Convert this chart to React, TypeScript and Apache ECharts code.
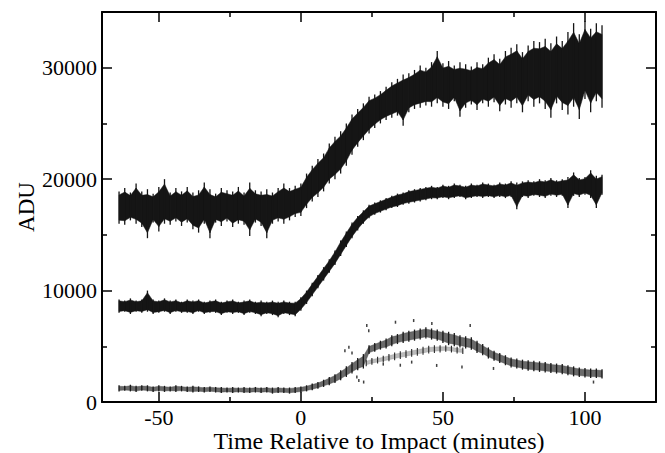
import React, { useEffect, useRef } from "react";
import * as echarts from "echarts";

// Time relative to impact (minutes)
const minutes = [-64,-62,-60,-58,-56,-54,-52,-50,-48,-46,-44,-42,-40,-38,-36,-34,-32,-30,-28,-26,-24,-22,-20,-18,-16,-14,-12,-10,-8,-6,-4,-2,0,2,4,6,8,10,12,14,16,18,20,22,24,26,28,30,32,34,36,38,40,42,44,46,48,50,52,54,56,58,60,62,64,66,68,70,72,74,76,78,80,82,84,86,88,90,92,94,96,98,100,102,104,106];

// Upper curve: envelope (high / low) of the noisy trace, ADU
const upperHi = [18900,19200,18800,19600,18900,19100,18700,19300,20000,18800,
  19200,18900,19300,18800,19000,19700,19100,18700,19200,19000,
  18900,19300,18800,19700,19000,18900,19100,18800,19200,19600,
  19200,19400,19600,20500,21200,21800,22300,23200,23800,24300,
  25000,25800,26300,26800,27400,27600,27900,28300,28700,29000,
  29400,29500,29800,30200,30000,30500,31500,30400,30600,30200,
  30500,30300,30100,30500,30300,30900,31200,30800,31500,31800,
  32100,31400,32000,32400,32300,32600,32200,32800,32400,33200,
  34000,33000,34200,33500,34000,33800];
const upperLo = [16000,15900,16300,16000,15700,14700,16100,15300,16000,15900,
  16200,15800,16100,15500,15200,16000,14700,16100,15800,16200,
  15700,16000,15900,14900,16100,15800,14700,16000,16200,16000,
  16300,16600,16700,17400,18000,18400,18900,19600,20000,20500,
  21200,22200,22900,23500,24100,24600,25000,25300,25500,25700,
  24800,26000,26300,26400,26600,26500,26800,26500,26300,27000,
  25600,26400,26700,26200,26800,26500,26900,26100,26700,26400,
  26800,26000,27000,26500,26800,26300,25500,26800,26200,25800,
  26500,25400,27200,26000,27000,26400];

// Middle curve
const middleHi = [9200,9100,9300,9100,9200,10000,9200,9100,9300,9100,
  9200,9000,9200,9100,9200,9000,9100,9200,9000,9100,
  9200,9000,9100,9200,9000,9100,9000,9100,9000,9100,
  9000,9000,9400,10000,10700,11400,12100,12800,13600,14500,
  15300,16100,16700,17200,17700,17900,18100,18300,18500,18700,
  18800,19000,19100,19200,19300,19400,19300,19500,19400,19600,
  19500,19400,19600,19500,19700,19600,19500,19700,19600,19800,
  19700,19800,19900,19800,20000,19900,20100,19900,20000,20200,
  20600,20100,20200,20800,20300,20400];
const middleLo = [8000,8100,7900,8100,8000,8100,7900,8000,8100,7900,
  8100,8000,8000,7900,8100,7900,8000,8000,7800,8000,
  7900,8000,7800,8000,7900,7700,7900,7800,7600,7900,
  7800,7700,8200,8800,9500,10200,10900,11600,12300,13100,
  13900,14700,15400,16000,16500,16800,17000,17200,17400,17500,
  17700,17800,17900,18000,18100,18200,18200,18300,18200,18300,
  18400,18200,18300,18400,18300,18400,18300,18400,18300,18400,
  17300,18400,18300,18500,18400,18300,18500,18400,18500,17400,
  18500,18400,18600,18300,17400,18600];

// Lower curve (main track)
const lowerHi = [1500,1450,1550,1450,1500,1500,1400,1500,1450,1400,
  1500,1450,1400,1450,1400,1350,1400,1350,1350,1300,
  1350,1300,1350,1300,1350,1300,1350,1300,1350,1300,
  1300,1350,1400,1500,1650,1800,2000,2250,2500,2850,
  3200,3600,3950,4300,5100,5300,5500,5700,6000,6100,
  6300,6400,6500,6600,6700,6600,6500,6400,6300,6200,
  6000,5900,5800,5500,5200,4900,4600,4400,4200,4000,
  3900,3800,3750,3700,3650,3600,3500,3450,3400,3300,
  3200,3100,3050,3000,3000,2950];
const lowerLo = [950,1000,950,900,1000,950,900,950,900,950,
  900,950,900,850,900,850,900,850,800,850,
  800,850,800,800,850,800,850,750,800,800,
  750,800,850,950,1050,1200,1350,1500,1700,1950,
  2250,2550,2850,3000,4300,4500,4700,4800,5000,5200,
  5300,5400,5500,5600,5700,5600,5500,5300,5100,5000,
  4900,4800,4700,4400,4200,3900,3700,3500,3300,3100,
  3000,2900,2800,2750,2700,2650,2600,2550,2500,2400,
  2300,2250,2200,2150,2150,2100];

// Lower curve, secondary (fainter) track
const minutesB = [23,25,27,29,31,33,35,37,39,41,43,45,47,49,51,53,55,57];
const lowerBHi = [3800,3950,4050,4150,4300,4450,4550,4650,4750,4850,4950,5050,5100,5100,5100,5050,4950,4900];
const lowerBLo = [3200,3350,3450,3550,3650,3750,3850,3950,4050,4150,4250,4350,4400,4450,4500,4450,4350,4300];

// Scattered outlying points of the lower curve
const lowerOutliers = [[23.2,6860],[23.9,6400],[33.3,7160],[39.7,7310],[46.1,7040],[20.4,1940],[22.1,1790],[19.7,2240],[16.9,4920],[47.8,3280],[39,3580],[59.6,6860],[56.7,3130],[67.8,3010],[103,1790],[15.5,4600],[18,4400],[29,3400],[35,3300]];

const xMajor = [-50, 0, 50, 100];
const xMinor = [-25, 25, 75];
const yMajor = [0, 10000, 20000, 30000];
const yMinor = [5000, 15000, 25000];
const xTitle = "Time Relative to Impact (minutes)";
const yTitle = "ADU";

const FONT = "Liberation Serif";

function band(
  t: number[], hi: number[], lo: number[],
  fill: string, fillOpacity: number, core: number,
  stroke: string, strokeWidth: number
) {
  const data = t.map((_, i) => {
    const j = Math.min(i + 1, t.length - 1);
    return [t[i], lo[i], hi[i], t[j], lo[j], hi[j], i === t.length - 1 ? 1 : 0];
  });
  return {
    type: "custom",
    silent: true,
    clip: true,
    data,
    encode: { x: [0, 3], y: [1, 2, 4, 5] },
    renderItem: (_p: any, api: any) => {
      const t0 = api.value(0), l0 = api.value(1), h0 = api.value(2);
      const t1 = api.value(3), l1 = api.value(4), h1 = api.value(5);
      const c0 = (l0 + h0) / 2, r0 = ((h0 - l0) / 2) * core;
      const c1 = (l1 + h1) / 2, r1 = ((h1 - l1) / 2) * core;
      const children: any[] = [];
      if (!api.value(6)) {
        children.push({
          type: "polygon",
          shape: {
            points: [
              api.coord([t0, c0 + r0]), api.coord([t1, c1 + r1]),
              api.coord([t1, c1 - r1]), api.coord([t0, c0 - r0]),
            ],
          },
          style: { fill, opacity: fillOpacity, stroke: fill, lineWidth: 0.5 },
        });
      }
      const top = api.coord([t0, h0]);
      const bot = api.coord([t0, l0]);
      children.push({
        type: "line",
        shape: { x1: top[0], y1: top[1], x2: bot[0], y2: bot[1] },
        style: { stroke, lineWidth: strokeWidth },
      });
      return { type: "group", children };
    },
  };
}

function xAx(pos: string, vals: number[], len: number, labels: boolean, line: boolean) {
  return {
    type: "value",
    position: pos,
    min: -70,
    max: 125,
    axisLine: { show: line, onZero: false, lineStyle: { color: "#000", width: 2 } },
    axisTick: { show: true, inside: true, length: len, customValues: vals, lineStyle: { color: "#000", width: 1.5 } },
    axisLabel: labels
      ? { show: true, customValues: vals, color: "#000", fontFamily: FONT, fontSize: 22, lineHeight: 18, margin: 6, formatter: (v: number) => String(v) }
      : { show: false },
    splitLine: { show: false },
  };
}

function yAx(pos: string, vals: number[], len: number, labels: boolean, line: boolean) {
  return {
    type: "value",
    position: pos,
    min: 0,
    max: 35000,
    axisLine: { show: line, onZero: false, lineStyle: { color: "#000", width: 2 } },
    axisTick: { show: true, inside: true, length: len, customValues: vals, lineStyle: { color: "#000", width: 1.5 } },
    axisLabel: labels
      ? { show: true, customValues: vals, color: "#000", fontFamily: FONT, fontSize: 22, margin: 5, formatter: (v: number) => String(v) }
      : { show: false },
    splitLine: { show: false },
  };
}

export default function App() {
  const ref = useRef<HTMLDivElement>(null);
  useEffect(() => {
    if (!ref.current) return;
    const chart = echarts.init(ref.current, undefined, { renderer: "svg" });
    chart.setOption({
      animation: false,
      backgroundColor: "#fff",
      grid: { left: 102, right: 9, top: 12, bottom: 51, outerBoundsMode: "none" },
      xAxis: [
        xAx("bottom", xMajor, 10, true, true),
        xAx("bottom", xMinor, 5, false, false),
        xAx("top", xMajor, 10, false, true),
        xAx("top", xMinor, 5, false, false),
      ],
      yAxis: [
        yAx("left", yMajor, 10, true, true),
        yAx("left", yMinor, 5, false, false),
        yAx("right", yMajor, 10, false, true),
        yAx("right", yMinor, 5, false, false),
      ],
      graphic: [
        {
          type: "text",
          x: 379,
          y: 441,
          style: { text: xTitle, font: `24px "${FONT}"`, lineHeight: 20, fill: "#000", textAlign: "center", textVerticalAlign: "middle" },
        },
        {
          type: "text",
          x: 26,
          y: 207,
          rotation: Math.PI / 2,
          style: { text: yTitle, font: `23px "${FONT}"`, fill: "#000", textAlign: "center", textVerticalAlign: "middle" },
        },
      ],
      series: [
        band(minutes, upperHi, upperLo, "#151515", 1, 0.78, "#151515", 1.3),
        band(minutes, middleHi, middleLo, "#151515", 1, 0.8, "#151515", 1.3),
        band(minutes, lowerHi, lowerLo, "#444", 0.8, 0.7, "#1a1a1a", 1.3),
        band(minutesB, lowerBHi, lowerBLo, "#777", 0.5, 0.55, "#2a2a2a", 1.1),
        {
          type: "scatter",
          data: lowerOutliers,
          symbol: "rect",
          symbolSize: [1.5, 3],
          itemStyle: { color: "#111" },
          silent: true,
        },
      ],
    });
    return () => chart.dispose();
  }, []);
  return (
    <div
      ref={ref}
      style={{ position: "fixed", left: 0, top: 0, width: 665, height: 453, background: "#fff" }}
    />
  );
}
